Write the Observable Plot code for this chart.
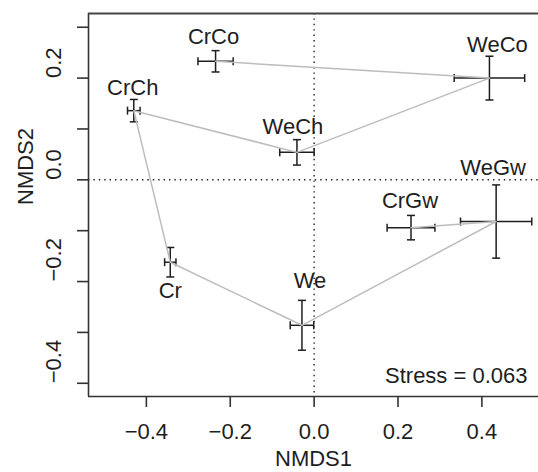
<!DOCTYPE html>
<html>
<head>
<meta charset="utf-8">
<script src="https://cdn.jsdelivr.net/npm/d3@7"></script>
<script src="https://cdn.jsdelivr.net/npm/@observablehq/plot@0.6"></script>
<style>
  html, body { margin: 0; padding: 0; background: #fff; }
  svg { display: block; }
</style>
</head>
<body>
<div id="chart"></div>
<script>
// NMDS group centroids (mean ± SE), listed in the order the connecting path visits them
const groups = ["CrCo", "WeCo", "WeCh", "CrCh", "Cr", "We", "WeGw", "CrGw"];
const nmds1 = [-0.235, 0.418, -0.041, -0.430, -0.343, -0.029, 0.434, 0.231];
const nmds2 = [0.233, 0.200, 0.054, 0.136, -0.162, -0.286, -0.082, -0.094];
const se1 = [0.042, 0.084, 0.041, 0.015, 0.0135, 0.028, 0.085, 0.057];
const se2 = [0.021, 0.043, 0.025, 0.022, 0.029, 0.049, 0.072, 0.024];

const xTicks = [-0.4, -0.2, 0.0, 0.2, 0.4];
const yTicks = [-0.4, -0.3, -0.2, -0.1, 0.0, 0.1, 0.2, 0.3];
const yTickLabels = [-0.4, -0.2, 0.0, 0.2];
const stressText = "Stress = 0.063";

// label placement around each centroid (pixels)
const labelDx = [-2, 8, -4, -1, 0, 8, -3, -1];
const labelDy = [-24, -33, -25, -23, 29, -44, -54, -27];

const W = 538, H = 472;
const M = {top: 13, right: 0, bottom: 76, left: 88};
const xDomain = [-0.538, 0.535];
const yDomain = [-0.426, 0.327];

// error-bar cap half length, converted from pixels to data units
const capPx = 4;
const capX = capPx * (xDomain[1] - xDomain[0]) / (W - M.left - M.right);
const capY = capPx * (yDomain[1] - yDomain[0]) / (H - M.top - M.bottom);

const pts = groups.map((g, i) => ({
  g, x: nmds1[i], y: nmds2[i], sx: se1[i], sy: se2[i], dx: labelDx[i], dy: labelDy[i]
}));

const fmt = d => (d < 0 ? "\u2212" : "") + Math.abs(d).toFixed(1);
const ink = "#1e1e1e";
const FS = 22;

const barStyle = {stroke: ink, strokeWidth: 1.5};

const chart = Plot.plot({
  width: W, height: H,
  marginTop: M.top, marginRight: M.right, marginBottom: M.bottom, marginLeft: M.left,
  style: {fontFamily: "'Liberation Sans', Arial, Helvetica, sans-serif", background: "#fff"},
  x: {domain: xDomain, axis: null},
  y: {domain: yDomain, axis: null},
  marks: [
    // zero reference lines
    Plot.ruleX([0], {stroke: ink, strokeWidth: 1.4, strokeDasharray: "1.4,4"}),
    Plot.ruleY([0], {stroke: ink, strokeWidth: 1.4, strokeDasharray: "1.4,4"}),
    // horizontal error bars with caps
    Plot.link(pts, {x1: d => d.x - d.sx, x2: d => d.x + d.sx, y1: "y", y2: "y", ...barStyle}),
    Plot.link(pts, {x1: d => d.x - d.sx, x2: d => d.x - d.sx, y1: d => d.y - capY, y2: d => d.y + capY, ...barStyle}),
    Plot.link(pts, {x1: d => d.x + d.sx, x2: d => d.x + d.sx, y1: d => d.y - capY, y2: d => d.y + capY, ...barStyle}),
    // vertical error bars with caps
    Plot.link(pts, {x1: "x", x2: "x", y1: d => d.y - d.sy, y2: d => d.y + d.sy, ...barStyle}),
    Plot.link(pts, {x1: d => d.x - capX, x2: d => d.x + capX, y1: d => d.y - d.sy, y2: d => d.y - d.sy, ...barStyle}),
    Plot.link(pts, {x1: d => d.x - capX, x2: d => d.x + capX, y1: d => d.y + d.sy, y2: d => d.y + d.sy, ...barStyle}),
    // path joining the centroids
    Plot.line(pts, {x: "x", y: "y", stroke: "#bdbdbd", strokeWidth: 1.5, curve: "linear"}),
    // group labels, each with its own offset
    ...pts.map(p => Plot.text([p], {x: "x", y: "y", text: "g", dx: p.dx, dy: p.dy,
      fontSize: FS, fill: ink, lineAnchor: "middle"})),
    // frame: left, bottom and top sides
    Plot.ruleX([xDomain[0]], {stroke: "#333", strokeWidth: 1.6}),
    Plot.ruleY([yDomain[0]], {stroke: "#333", strokeWidth: 1.6}),
    Plot.ruleY([yDomain[1]], {stroke: "#444", strokeWidth: 2}),
    // axes
    Plot.axisX({ticks: xTicks, tickSize: 11, tickFormat: () => "", label: null, stroke: "#333", strokeWidth: 1.6}),
    Plot.axisY({ticks: yTicks, tickSize: 11, tickFormat: () => "", label: null, stroke: "#333", strokeWidth: 1.6}),
    Plot.text(xTicks, {x: d => d, frameAnchor: "bottom", dy: 35, text: fmt, fontSize: FS, fill: ink, lineAnchor: "middle"}),
    Plot.text(yTickLabels, {y: d => d, frameAnchor: "left", dx: -35, rotate: -90, text: fmt, fontSize: FS, fill: ink, lineAnchor: "middle"}),
    // axis titles
    Plot.text(["NMDS1"], {frameAnchor: "bottom", dy: 62, text: d => d, fontSize: FS, fill: ink, lineAnchor: "middle"}),
    Plot.text(["NMDS2"], {frameAnchor: "left", dx: -63, rotate: -90, text: d => d, fontSize: FS, fill: ink, lineAnchor: "middle"}),
    // stress annotation
    Plot.text([stressText], {frameAnchor: "bottom-right", dx: -11, dy: -21, text: d => d, textAnchor: "end", fontSize: FS, fill: ink, lineAnchor: "middle"})
  ]
});

document.getElementById("chart").appendChild(chart);
</script>
</body>
</html>
